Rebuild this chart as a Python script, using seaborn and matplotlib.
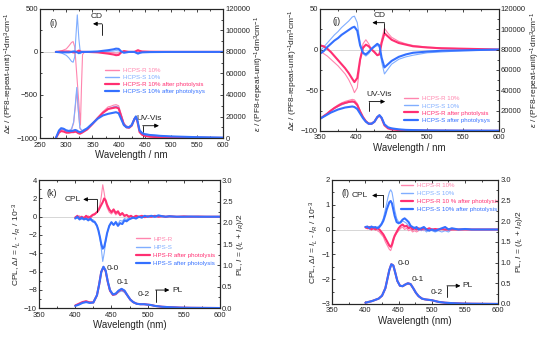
import matplotlib
matplotlib.use('Agg')
import matplotlib.pyplot as plt
import seaborn as sns
from matplotlib.ticker import MultipleLocator, AutoMinorLocator

sns.set_style('ticks')
plt.rcParams['font.family'] = ['Liberation Sans', 'DejaVu Sans']
plt.rcParams['mathtext.fontset'] = 'custom'
plt.rcParams['mathtext.rm'] = 'Liberation Sans'
plt.rcParams['mathtext.it'] = 'Liberation Sans:italic'

# colours: thin = before photolysis, thick = after photolysis
c_pink_thin = '#ff85ae'
c_blue_thin = '#80aeff'
c_pink = '#ff2f72'
c_blue = '#3470ff'

# ---------------- panel (i) ----------------
wl_i_uv = [280, 283, 286, 290, 295, 300, 305, 310, 314, 317, 320, 323, 326, 330, 340, 350, 360, 370, 380, 385,
           390, 395, 400, 405, 410, 415, 420, 425, 430, 433, 436, 440, 445, 450, 460, 480, 500, 550, 600]
uv_i_r10 = [0, 3000, 6500, 8000, 7500, 6000, 6500, 8000, 14000, 28000, 44000, 25000, 9000, 6500, 9000, 13500, 19000,
            24500, 29000, 29500, 30500, 31000, 30000, 22000, 14000, 11000, 10500, 12500, 18000, 20000, 16000, 7000,
            4500, 3500, 2500, 1800, 1200, 600, 300]
uv_i_s10 = [0, 3500, 7000, 9500, 9000, 7500, 7000, 8500, 15000, 30000, 47000, 26000, 9500, 7000, 9500, 14000, 19000,
            23500, 27000, 28000, 29000, 29500, 28500, 21000, 13500, 11000, 10500, 12500, 18500, 20500, 16500, 7500,
            5000, 4000, 3000, 2200, 1500, 800, 400]
uv_i_r_ph = [0, 2500, 5000, 6500, 6000, 5000, 5000, 5500, 5500, 6000, 5500, 4500, 4000, 5000, 8000, 13000, 18500,
             23500, 27000, 27500, 28000, 28500, 27500, 20000, 12500, 10000, 9500, 11500, 17500, 19500, 15000, 5500,
             3000, 2000, 1200, 700, 400, 200, 100]
uv_i_s_ph = [0, 3500, 7000, 9000, 8500, 7000, 6500, 6500, 7000, 7500, 7000, 6000, 5500, 6000, 9000, 13500, 18000,
             21000, 22500, 23000, 23500, 24000, 23000, 17500, 12000, 10000, 10000, 12000, 17500, 20000, 16000, 7000,
             4500, 3500, 2800, 2000, 1500, 800, 400]

wl_i_cd = [280, 290, 300, 305, 310, 313, 316, 318, 321, 324, 327, 329, 331, 335, 340, 360, 380, 390, 395, 400,
           405, 410, 415, 420, 430, 437, 440, 445, 460, 500, 600]
cd_i_r10 = [0, 10, 35, 70, 110, 120, 60, -100, -350, -600, -850, -400, -30, 0, 0, 0, -5, -10, -15, -12,
            -5, 5, 0, 0, 0, 10, 5, 2, 0, 0, 0]
cd_i_s10 = [0, -10, -40, -70, -110, -120, -60, 150, 430, 150, -20, -10, 0, 0, 0, 0, 5, 10, 15, 12,
            5, -5, 0, 0, 0, -10, -5, -2, 0, 0, 0]
cd_i_r_ph = [0, 5, 5, 5, 0, -5, -5, 0, 5, 15, 5, 0, 0, 0, 0, -5, -20, -30, -38, -35,
             -5, 10, 5, 0, 0, 20, 12, 5, 2, 0, 0]
cd_i_s_ph = [0, -5, -5, -5, 0, 5, 5, 0, -5, -15, -5, 0, 0, 0, 0, 5, 20, 30, 38, 35,
             5, -10, -5, 0, 0, -20, -12, -5, -2, 0, 0]
labels_i = ['HCPS-R 10%', 'HCPS-S 10%', 'HCPS-R 10% after photolysis', 'HCPS-S 10% after photolysys']

# ---------------- panel (j) ----------------
wl_j = [350, 355, 360, 365, 370, 375, 380, 385, 390, 395, 398, 402, 406, 410, 414, 418, 422, 426, 430, 433,
        436, 440, 445, 450, 460, 470, 480, 500, 520, 550, 600]
cd_j_r10 = [-2, -5, -8, -12, -16, -20, -25, -30, -37, -46, -53, -47, -15, 7, 12, 7, 0, -4, -7, -5,
            12, 26, 20, 15, 10, 7, 5, 3, 2, 1, 0]
cd_j_s10 = [-2, 3, 8, 13, 18, 22, 27, 31, 35, 40, 41, 33, 8, -5, -8, -5, 0, 3, 5, 3,
            -15, -30, -24, -18, -12, -9, -7, -4, -3, -1.5, -0.5]
cd_j_r_ph = [5, 4, 1, -3, -8, -13, -18, -23, -29, -36, -40, -35, -12, 2, 6, 4, 0, -3, -7, -6,
             8, 20, 16, 12, 8, 6, 4, 2.5, 1.5, 1, 0]
cd_j_s_ph = [-5, -2, 3, 7, 11, 14, 18, 21, 24, 27, 28, 23, 5, -4, -6, -3, 1, 4, 7, 5,
             -10, -22, -18, -14, -9, -6, -4, -2.5, -1.5, -1, 0]
uv_j_r10 = [12000, 14500, 17000, 20000, 23000, 25500, 27500, 29000, 30000, 31000, 30500, 27000, 20000, 14000, 10000,
            7500, 7500, 9500, 14000, 15500, 13000, 6000, 3000, 2000, 1200, 800, 600, 400, 300, 200, 100]
uv_j_s10 = [12000, 14500, 17000, 19500, 22000, 24000, 25500, 27000, 28000, 28500, 28000, 25000, 19000, 13500, 9500,
            7500, 7500, 9500, 14000, 15500, 13000, 6500, 3500, 2500, 1500, 1000, 800, 500, 400, 300, 200]
uv_j_r_ph = [12000, 14500, 17000, 20000, 22500, 24500, 26500, 27500, 28500, 29000, 28500, 25500, 19000, 13500, 9500,
             7000, 7000, 9000, 13500, 15000, 12500, 5500, 2500, 1500, 800, 500, 400, 300, 200, 100, 50]
uv_j_s_ph = [12000, 14000, 16000, 18000, 19500, 21000, 22000, 23000, 23500, 24000, 23500, 21500, 17000, 12500, 9000,
             7000, 7000, 9000, 13500, 15500, 13000, 6500, 3500, 2500, 1500, 1000, 800, 500, 400, 300, 200]
labels_j = ['HCPS-R 10%', 'HCPS-S 10%', 'HCPS-R after photolysis', 'HCPS-S after photolysys']

# ---------------- panels (k) and (l): PL and CPL ----------------
wl_pl = [400, 405, 410, 415, 420, 425, 430, 433, 436, 439, 442, 445, 448, 452, 456, 460, 464, 468, 472, 476,
         480, 485, 490, 495, 500, 505, 510, 520, 530, 545, 560, 600]
wl_cpl = [400, 403, 406, 409, 412, 415, 418, 421, 424, 427, 430, 432, 434, 436, 438, 440, 442, 444, 447, 450,
          453, 456, 459, 462, 465, 468, 471, 474, 477, 480, 484, 488, 492, 496, 500, 505, 510, 515, 520, 525,
          530, 540, 550, 560, 570, 580, 590, 600]

pl_k_r = [0.06, 0.1, 0.14, 0.16, 0.14, 0.14, 0.3, 0.55, 0.85, 0.96, 0.86, 0.6, 0.4, 0.3, 0.32, 0.38, 0.41, 0.38,
          0.29, 0.19, 0.13, 0.1, 0.09, 0.09, 0.08, 0.07, 0.05, 0.03, 0.02, 0.01, 0.005, 0]
pl_k_s = [0.05, 0.09, 0.13, 0.15, 0.13, 0.13, 0.29, 0.54, 0.84, 0.95, 0.85, 0.59, 0.39, 0.3, 0.31, 0.37, 0.4, 0.37,
          0.28, 0.19, 0.13, 0.1, 0.09, 0.09, 0.08, 0.07, 0.05, 0.03, 0.02, 0.01, 0.005, 0]
pl_k_r_ph = [0.06, 0.1, 0.14, 0.16, 0.13, 0.13, 0.3, 0.55, 0.85, 0.96, 0.87, 0.61, 0.41, 0.31, 0.33, 0.4, 0.44, 0.4,
             0.3, 0.2, 0.14, 0.1, 0.09, 0.09, 0.08, 0.07, 0.05, 0.03, 0.02, 0.01, 0.005, 0]
pl_k_s_ph = [0.05, 0.08, 0.12, 0.14, 0.12, 0.13, 0.3, 0.55, 0.85, 0.97, 0.88, 0.62, 0.42, 0.32, 0.34, 0.41, 0.45, 0.41,
             0.3, 0.2, 0.14, 0.1, 0.09, 0.09, 0.08, 0.07, 0.05, 0.03, 0.02, 0.01, 0.005, 0]
cpl_k_r = [0.0, -0.1, 0.1, -0.2, 0.0, -0.1, 0.1, -0.2, 0.1, 0.2, 0.5, 0.8, 1.3, 2.2, 3.5, 2.6, 1.6, 1.0, 0.5, 0.3,
           0.6, 0.2, 0.4, 0.1, 0.3, 0.0, 0.2, -0.1, 0.1, 0.0, 0.1, -0.1, 0.1, 0.0, 0.05, -0.05, 0.1, 0.0, 0.05, -0.05,
           0.05, 0.0, 0.05, 0.0, 0.0, 0.02, 0.0, 0.0]
cpl_k_s = [-0.1, -0.2, 0.0, -0.3, -0.1, -0.3, -0.1, -0.4, -0.3, -0.5, -0.9, -1.4, -2.2, -3.5, -4.9, -4.0, -2.8, -1.8,
           -1.0, -0.6, -0.9, -0.5, -0.8, -0.4, -0.5, -0.2, -0.3, -0.1, -0.2, 0.0, -0.1, 0.0, -0.1, 0.0, -0.05, 0.05,
           -0.05, 0.0, 0.1, 0.0, 0.0, 0.02, 0.0, 0.0, 0.0, 0.0, 0.0, 0.0]
cpl_k_r_ph = [-0.1, 0.1, -0.2, 0.0, -0.2, 0.1, -0.1, 0.0, 0.2, 0.3, 0.5, 0.7, 1.0, 1.3, 1.6, 2.0, 1.8, 1.3, 0.8, 0.5,
              0.8, 0.4, 0.6, 0.2, 0.4, 0.1, 0.2, 0.0, 0.1, -0.1, 0.1, 0.0, 0.1, -0.05, 0.05, 0.0, 0.1, 0.0, 0.05, 0.0,
              0.05, 0.0, 0.03, 0.0, 0.02, 0.0, 0.0, 0.0]
cpl_k_s_ph = [-0.2, 0.0, -0.3, -0.1, -0.3, -0.2, -0.4, -0.2, -0.5, -0.6, -1.0, -1.5, -2.2, -3.0, -3.5, -3.3, -2.6,
              -1.8, -1.0, -0.6, -0.9, -0.6, -1.0, -0.7, -0.8, -0.4, -0.5, -0.3, -0.2, -0.1, -0.2, 0.0, -0.1, 0.1, 0.0,
              0.1, 0.0, 0.15, 0.05, 0.0, 0.05, 0.0, 0.0, 0.02, 0.0, 0.0, 0.0, 0.0]
labels_k = ['HPS-R', 'HPS-S', 'HPS-R after photolysis', 'HPS-S after photolysis']

pl_l_r = [0.03, 0.05, 0.07, 0.1, 0.13, 0.2, 0.37, 0.59, 0.81, 0.95, 0.92, 0.74, 0.55, 0.43, 0.42, 0.46, 0.48, 0.46,
          0.37, 0.26, 0.18, 0.13, 0.11, 0.1, 0.09, 0.07, 0.05, 0.03, 0.02, 0.01, 0.005, 0]
pl_l_s = [0.03, 0.05, 0.07, 0.1, 0.13, 0.2, 0.38, 0.6, 0.82, 0.95, 0.92, 0.74, 0.55, 0.43, 0.42, 0.46, 0.49, 0.47,
          0.37, 0.26, 0.18, 0.13, 0.11, 0.1, 0.09, 0.07, 0.05, 0.03, 0.02, 0.01, 0.005, 0]
pl_l_r_ph = [0.03, 0.05, 0.07, 0.1, 0.13, 0.2, 0.38, 0.6, 0.82, 0.96, 0.93, 0.75, 0.56, 0.44, 0.43, 0.47, 0.5, 0.48,
             0.38, 0.27, 0.19, 0.13, 0.11, 0.1, 0.09, 0.07, 0.05, 0.03, 0.02, 0.01, 0.005, 0]
pl_l_s_ph = [0.03, 0.05, 0.07, 0.1, 0.13, 0.2, 0.38, 0.6, 0.82, 0.96, 0.93, 0.75, 0.56, 0.44, 0.43, 0.47, 0.5, 0.48,
             0.38, 0.27, 0.19, 0.13, 0.11, 0.1, 0.09, 0.07, 0.05, 0.03, 0.02, 0.01, 0.005, 0]
cpl_l_r = [0.05, 0.1, 0.0, 0.05, 0.0, 0.05, -0.05, -0.1, -0.2, -0.3, -0.5, -0.6, -0.7, -0.8, -0.85, -0.7, -0.5, -0.3,
           -0.15, -0.05, 0.05, 0.1, 0.0, 0.05, -0.05, 0.0, -0.1, -0.05, -0.1, -0.05, 0.0, -0.05, 0.0, -0.05, 0.0,
           -0.05, 0.0, 0.0, -0.02, 0.0, 0.0, 0.0, 0.0, 0.0, 0.0, 0.0, 0.0, 0.0]
cpl_l_s = [0.1, 0.05, 0.12, 0.08, 0.1, 0.05, 0.1, 0.15, 0.25, 0.45, 0.8, 1.05, 1.3, 1.5, 1.6, 1.5, 1.2, 0.8, 0.45, 0.3,
           0.25, 0.35, 0.3, 0.25, 0.15, 0.1, 0.05, 0.1, 0.0, 0.05, -0.05, 0.0, -0.1, 0.0, -0.05, -0.1, -0.05, -0.1,
           -0.05, -0.1, 0.0, 0.0, 0.02, 0.0, 0.0, 0.0, 0.0, 0.0]
cpl_l_r_ph = [0.1, 0.05, 0.1, 0.0, 0.08, 0.0, 0.05, 0.0, -0.1, -0.2, -0.35, -0.45, -0.55, -0.65, -0.7, -0.6, -0.4,
              -0.25, -0.1, 0.05, 0.15, 0.2, 0.12, 0.15, 0.05, 0.1, 0.0, 0.05, 0.0, 0.05, 0.0, 0.05, 0.0, 0.05, 0.0,
              0.02, 0.0, 0.02, 0.0, 0.0, 0.0, 0.0, 0.0, 0.0, 0.0, 0.0, 0.0, 0.0]
cpl_l_s_ph = [0.1, 0.12, 0.05, 0.12, 0.08, 0.1, 0.05, 0.1, 0.2, 0.35, 0.6, 0.8, 0.95, 1.1, 1.15, 1.05, 0.8, 0.55, 0.3,
              0.25, 0.3, 0.4, 0.45, 0.38, 0.3, 0.15, 0.1, 0.05, 0.1, 0.0, 0.05, 0.1, 0.0, -0.05, 0.0, -0.05, 0.0, 0.05,
              0.1, 0.0, 0.05, 0.0, 0.02, 0.0, 0.0, 0.0, 0.0, 0.0]
labels_l = ['HCPS-R 10%', 'HCPS-S 10%', 'HCPS-R 10 % after photolysis', 'HCPS-S 10% after photolysis']

colors = [c_pink_thin, c_blue_thin, c_pink, c_blue]
widths = [0.8, 0.8, 1.5, 1.5]

lab_cd = r'$\Delta\varepsilon$ / (PF8-repeat-unit)$^{-1}$dm$^{3}$cm$^{-1}$'
lab_uv = r'$\varepsilon$ / (PF8-repeat-unit)$^{-1}$dm$^{3}$cm$^{-1}$'
lab_cpl = r'CPL, $\Delta I$ = $I_L$ - $I_R$ / 10$^{-3}$'
lab_pl = r'PL, $I$ = ($I_L$ + $I_R$)/2'

fig = plt.figure(figsize=(5.5, 3.4), dpi=100)


def make_panel(rect, wl_a, ys_a, wl_b, ys_b, labels, xlim, ylim_l, ylim_r, yl_step, yr_step,
               xlabel, ylab_l, ylab_r, leg_anchor, leg_space=0.3, hlen=2.3):
    ax = fig.add_axes(rect)
    ax2 = ax.twinx()
    ax.axhline(0, color='#d0d0d0', lw=0.6, zorder=0)
    for y, c, w, lab in zip(ys_a, colors, widths, labels):
        sns.lineplot(x=wl_a, y=y, ax=ax, color=c, lw=w, label=lab, sort=False, estimator=None)
    for y, c, w in zip(ys_b, colors, widths):
        sns.lineplot(x=wl_b, y=y, ax=ax2, color=c, lw=w, sort=False, estimator=None)
    ax.set_xlim(xlim)
    ax.set_ylim(ylim_l)
    ax2.set_ylim(ylim_r)
    ax.xaxis.set_major_locator(MultipleLocator(50))
    ax.yaxis.set_major_locator(MultipleLocator(yl_step))
    ax2.yaxis.set_major_locator(MultipleLocator(yr_step))
    ax.yaxis.set_minor_locator(AutoMinorLocator(2))
    ax2.yaxis.set_minor_locator(AutoMinorLocator(2))
    ax.xaxis.set_minor_locator(AutoMinorLocator(2))
    for a in (ax, ax2):
        a.tick_params(which='both', direction='in', width=0.6, labelsize=5.5, pad=1.5)
        a.tick_params(which='major', length=2.5)
        a.tick_params(which='minor', length=1.5)
        for s in a.spines.values():
            s.set_linewidth(0.8)
    ax.tick_params(axis='x', which='both', top=True, pad=2.5)
    ax.set_xlabel(xlabel, fontsize=7, labelpad=1)
    ax.set_ylabel(ylab_l, fontsize=6, labelpad=1)
    ax2.set_ylabel(ylab_r, fontsize=6, labelpad=2)
    leg = ax.legend(loc='upper left', bbox_to_anchor=leg_anchor, frameon=False, fontsize=4.4,
                    labelcolor='linecolor', handlelength=hlen, handletextpad=0.6, labelspacing=leg_space,
                    borderaxespad=0)
    for h in leg.get_lines():
        h.set_linewidth(1.0 if h.get_linewidth() < 1 else 1.6)
    return ax, ax2


def bracket(ax, x_v, y_arrow, y_end, x_head, text, tx, ty, ha='center'):
    # small "label + arrow + drop line" marker pointing to the axis used
    ax.plot([x_v, x_v], [y_arrow, y_end], color='k', lw=0.6)
    ax.annotate('', xy=(x_head, y_arrow), xytext=(x_v, y_arrow),
                arrowprops=dict(arrowstyle='-|>', color='k', lw=0.6, mutation_scale=6, shrinkA=0, shrinkB=0))
    ax.text(tx, ty, text, fontsize=6, ha=ha, va='center')


# (i)
ax, ax2 = make_panel([0.073, 0.594, 0.333, 0.38],
                     wl_i_cd, [cd_i_r10, cd_i_s10, cd_i_r_ph, cd_i_s_ph],
                     wl_i_uv, [uv_i_r10, uv_i_s10, uv_i_r_ph, uv_i_s_ph],
                     labels_i, (250, 600), (-1000, 500), (0, 120000), 500, 20000,
                     'Wavelength / nm', lab_cd, lab_uv, (0.34, 0.565))
ax.text(275, 334, '(i)', fontsize=6.5, ha='center', va='center')
bracket(ax, 368, 326, 200, 351, 'CD', 358, 415)
bracket(ax, 446, -857, -985, 477, 'UV-Vis', 459, -770)

# (j)
ax, ax2 = make_panel([0.582, 0.615, 0.325, 0.359],
                     wl_j, [cd_j_r10, cd_j_s10, cd_j_r_ph, cd_j_s_ph],
                     wl_j, [uv_j_r10, uv_j_s10, uv_j_r_ph, uv_j_s_ph],
                     labels_j, (350, 600), (-100, 50), (0, 120000), 50, 20000,
                     'Wavelength / nm', lab_cd, lab_uv, (0.455, 0.305))
ax.text(373, 34, '(j)', fontsize=6.5, ha='center', va='center')
bracket(ax, 440, 33, 20, 423, 'CD', 433, 41.5)
bracket(ax, 418.5, -64, -75.5, 441, 'UV-Vis', 432, -55.5)

# (k)
ax, ax2 = make_panel([0.071, 0.094, 0.329, 0.376],
                     wl_cpl, [cpl_k_r, cpl_k_s, cpl_k_r_ph, cpl_k_s_ph],
                     wl_pl, [pl_k_r, pl_k_s, pl_k_r_ph, pl_k_s_ph],
                     labels_k, (350, 600), (-10, 4), (0, 3.0), 2, 0.5,
                     'Wavelength (nm)', lab_cpl, lab_pl, (0.52, 0.58), leg_space=0.47)
ax.text(367, 2.5, '(k)', fontsize=6.5, ha='center', va='center')
bracket(ax, 430, 1.9, 0.55, 411, 'CPL', 396, 1.9)
bracket(ax, 511, -8.03, -9.3, 530, 'PL', 534, -8.03, ha='left')
ax.text(452, -5.66, '0-0', fontsize=6, ha='center', va='center')
ax.text(465, -7.2, '0-1', fontsize=6, ha='center', va='center')
ax.text(494, -8.5, '0-2', fontsize=6, ha='center', va='center')

# (l)
ax, ax2 = make_panel([0.604, 0.106, 0.302, 0.365],
                     wl_cpl, [cpl_l_r, cpl_l_s, cpl_l_r_ph, cpl_l_s_ph],
                     wl_pl, [pl_l_r, pl_l_s, pl_l_r_ph, pl_l_s_ph],
                     labels_l, (350, 600), (-3, 2), (0, 3.0), 1, 0.5,
                     'Wavelength (nm)', lab_cpl, lab_pl, (0.40, 0.995), leg_space=0.45, hlen=2.0)
ax.text(370, 1.44, '(l)', fontsize=6.5, ha='center', va='center')
bracket(ax, 427, 1.37, 0.92, 410, 'CPL', 392, 1.37)
bracket(ax, 522.7, -2.27, -2.73, 543, 'PL', 546, -2.27, ha='left')
ax.text(457, -1.36, '0-0', fontsize=6, ha='center', va='center')
ax.text(478.5, -2.03, '0-1', fontsize=6, ha='center', va='center')
ax.text(506.6, -2.53, '0-2', fontsize=6, ha='center', va='center')

fig.savefig('out.png', dpi=100)
